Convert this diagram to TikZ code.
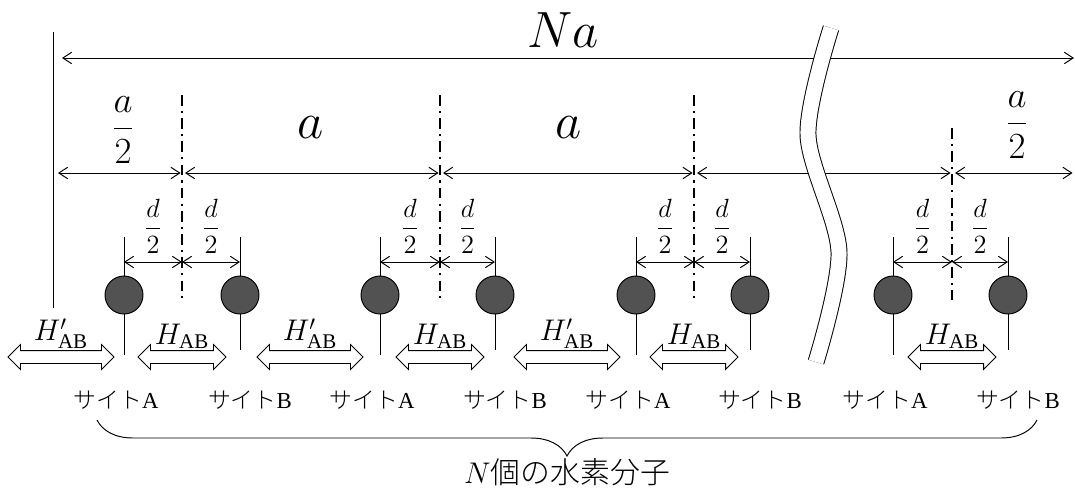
\RequirePackage{fix-cm}
\documentclass[tikz,border=0pt]{standalone}
\usepackage{amsmath}
\usepackage{fontspec}
\setmainfont{Liberation Serif}
\newfontfamily\jpfont{Noto Sans CJK JP}[UprightFont={* Light}]
\usetikzlibrary{arrows.meta,decorations.pathreplacing,shapes.arrows,positioning}

\begin{document}
\begin{tikzpicture}[x=0.02cm,y=-0.02cm,>={Straight Barb[length=5pt,width=6.5pt]},line width=0.55pt,
  dimline/.style={<->},
  axisline/.style={line width=0.8pt,dash pattern=on 6pt off 3pt on 1.2pt off 3pt},
  hbond/.style={draw,shape=double arrow,double arrow head extend=0.12cm,inner xsep=0pt,inner ysep=0.12cm,line width=0.5pt},
  atom/.style={circle,draw,fill=black!68,minimum size=0.76cm,inner sep=0pt},
  sitelbl/.style={font=\fontsize{13}{15}\selectfont},
  hlbl/.style={inner sep=0pt,font=\fontsize{17}{19}\selectfont},
  fraclbl/.style={font=\fontsize{15}{17}\selectfont}]
\useasboundingbox (0,0) rectangle (1075,491);
\coordinate (top) at (53,32); \coordinate (bot) at (53,308); \draw (top)--(bot);
\coordinate (naL) at (62,58); \coordinate (naR) at (1074,58); \draw[dimline] (naL)--(naR);
\node[font=\fontsize{29}{34}\selectfont] (na) at (563,30) {$Na$};
\coordinate (r0) at (55,173); \coordinate (rR) at (1074,173);
\foreach \i/\c/\A/\B/\yt in {1/182/124/240/95,2/440/380/495/95,3/694/636/750/95,4/952/893/1008/128}{
  \coordinate (mt\i) at (\c,\yt); \coordinate (mbot\i) at (\c,300); \draw[axisline] (mt\i)--(mbot\i);
  \coordinate (rc\i) at (\c,173);
  \coordinate (sa\i) at (\A,237); \coordinate (ea\i) at (\A,355); \draw (sa\i)--(ea\i);
  \coordinate (sb\i) at (\B,237); \coordinate (eb\i) at (\B,350); \draw (sb\i)--(eb\i);
  \node[atom] (atA\i) at (\A,295) {}; \node[atom] (atB\i) at (\B,295) {};
  \coordinate (da\i) at (\A,262); \coordinate (dc\i) at (\c,262); \coordinate (db\i) at (\B,262);
  \draw[dimline] (da\i)--(dc\i); \draw[dimline] (dc\i)--(db\i);
  \node[fraclbl] (dla\i) at ({(\A+\c)/2},226) {$\dfrac{d}{2}$};
  \node[fraclbl] (dlb\i) at ({(\B+\c)/2},226) {$\dfrac{d}{2}$};
  \node[hbond,minimum height=1.76cm] (h\i) at (\c,357) {};
  \node[hlbl,above=0.5pt of h\i] (hl\i) {$H_{\mathrm{AB}}$};
  \node[sitelbl] (sA\i) at (\A-8,400) {{\jpfont サイト}A};
  \node[sitelbl] (sB\i) at (\B+10,400) {{\jpfont サイト}B};
}
\foreach \p/\q in {r0/rc1,rc1/rc2,rc2/rc3,rc3/rc4,rc4/rR}{\draw[dimline,shorten <=1.7pt,shorten >=0.8pt] (\p)--(\q);}
\foreach \i/\x in {1/61,2/310,3/567}{
  \node[hbond,minimum height=2.12cm] (hp\i) at (\x,357) {};
  \node[hlbl,above=0.5pt of hp\i] (hpl\i) {$H'_{\mathrm{AB}}$};
}
\node[font=\fontsize{21}{24}\selectfont] (half1) at (123,130) {$\dfrac{a}{2}$};
\node[font=\fontsize{29}{34}\selectfont] (full1) at (311,128) {$a$};
\node[font=\fontsize{29}{34}\selectfont] (full2) at (569,128) {$a$};
\node[font=\fontsize{21}{24}\selectfont] (half2) at (1017,125) {$\dfrac{a}{2}$};
\draw[double distance=0.3cm,line width=0.55pt] plot[smooth] coordinates {(831,28) (808,135) (839,252) (816,362)};
\coordinate (brL) at (97,420); \coordinate (brR) at (1037,420);
\draw[decorate,decoration={brace,mirror,amplitude=0.72cm}] (brL)--(brR);
\node[font=\fontsize{17}{20}\selectfont] (total) at (567,472) {$N${\jpfont 個の水素分子}};
\end{tikzpicture}
\end{document}
